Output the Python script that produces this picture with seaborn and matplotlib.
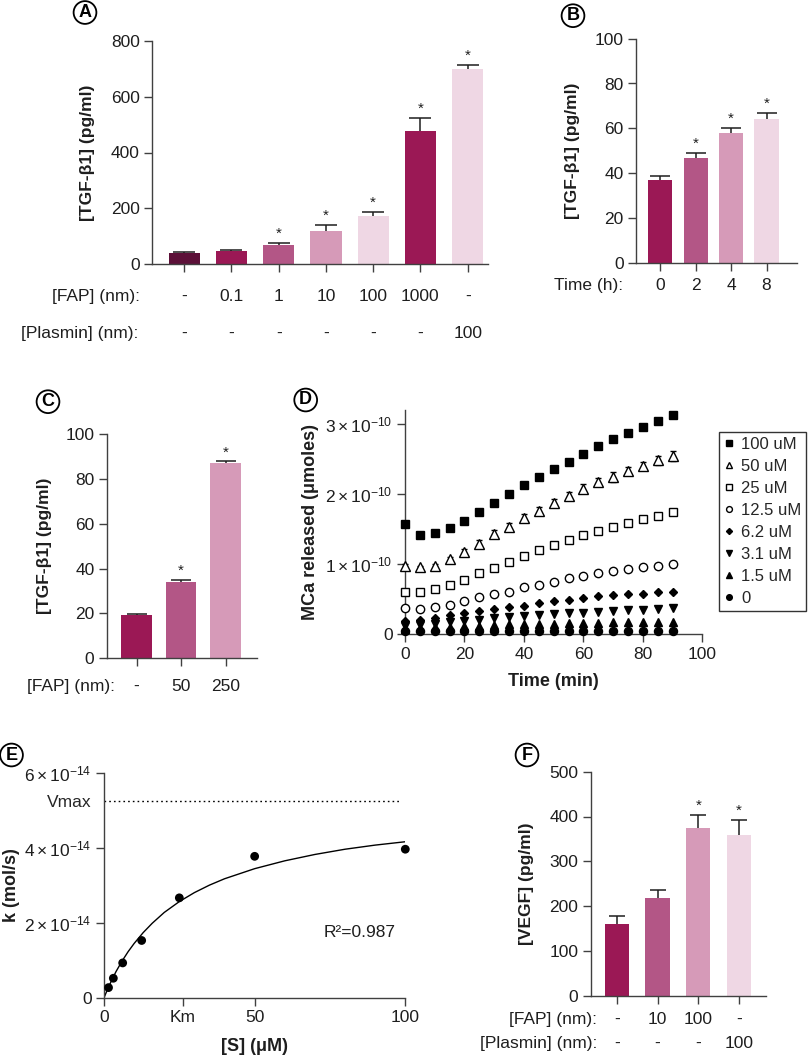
import numpy as np
import matplotlib
matplotlib.use("Agg")
import matplotlib.pyplot as plt
import matplotlib.transforms as mtransforms
import seaborn as sns

# ---- panel A: TGF-b1 vs FAP / plasmin
a_conditions = ["ctrl", "FAP 0.1", "FAP 1", "FAP 10", "FAP 100", "FAP 1000", "Plasmin 100"]
a_means = [40, 46, 68, 120, 171, 478, 699]
a_err = [4, 6, 8, 20, 16, 45, 16]
a_stars = [False, False, True, True, True, True, True]
a_fap = ["-", "0.1", "1", "10", "100", "1000", "-"]
a_plasmin = ["-", "-", "-", "-", "-", "-", "100"]

# ---- panel B: time course
b_conditions = ["0 h", "2 h", "4 h", "8 h"]
b_means = [36.8, 46.6, 57.8, 64.1]
b_err = [1.9, 2.4, 2.2, 2.9]
b_stars = [False, True, True, True]
b_time = ["0", "2", "4", "8"]

# ---- panel C
c_conditions = ["ctrl", "FAP 50", "FAP 250"]
c_means = [19.2, 34.0, 87.2]
c_err = [0.5, 1.0, 0.6]
c_stars = [False, True, True]
c_fap = ["-", "50", "250"]

# ---- panel D: MCa released (units of 1e-10 umoles)
d_time = [0, 5, 10, 15, 20, 25, 30, 35, 40, 45, 50, 55, 60, 65, 70, 75, 80, 85, 90]
d_100 = [1.58, 1.42, 1.44, 1.51, 1.62, 1.75, 1.87, 2.00, 2.13, 2.24, 2.36, 2.46, 2.57, 2.68, 2.78, 2.87, 2.96, 3.05, 3.13]
d_50 = [0.98, 0.96, 0.98, 1.07, 1.18, 1.29, 1.43, 1.53, 1.66, 1.76, 1.87, 1.97, 2.08, 2.17, 2.24, 2.33, 2.40, 2.48, 2.54]
d_50_err = [0.02, 0.02, 0.02, 0.03, 0.04, 0.06, 0.06, 0.06, 0.06, 0.06, 0.06, 0.06, 0.06, 0.06, 0.07, 0.06, 0.06, 0.07, 0.07]
d_25 = [0.61, 0.60, 0.64, 0.70, 0.78, 0.87, 0.95, 1.03, 1.12, 1.20, 1.27, 1.35, 1.41, 1.47, 1.53, 1.59, 1.65, 1.69, 1.75]
d_12 = [0.37, 0.36, 0.39, 0.42, 0.47, 0.53, 0.58, 0.61, 0.68, 0.71, 0.75, 0.80, 0.83, 0.87, 0.90, 0.93, 0.96, 0.98, 1.01]
d_6 = [0.19, 0.20, 0.23, 0.27, 0.30, 0.33, 0.36, 0.39, 0.41, 0.44, 0.47, 0.49, 0.52, 0.54, 0.56, 0.57, 0.58, 0.60, 0.61]
d_3 = [0.12, 0.13, 0.15, 0.17, 0.19, 0.21, 0.23, 0.25, 0.26, 0.28, 0.29, 0.30, 0.31, 0.32, 0.33, 0.34, 0.35, 0.36, 0.37]
d_1 = [0.08, 0.09, 0.10, 0.11, 0.12, 0.12, 0.13, 0.14, 0.14, 0.15, 0.15, 0.16, 0.16, 0.16, 0.17, 0.17, 0.17, 0.18, 0.18]
d_0 = [0.05, 0.04, 0.04, 0.04, 0.04, 0.04, 0.04, 0.04, 0.04, 0.04, 0.04, 0.04, 0.04, 0.04, 0.04, 0.04, 0.04, 0.04, 0.04]
d_labels = ["100 uM", "50 uM", "25 uM", "12.5 uM", "6.2 uM", "3.1 uM", "1.5 uM", "0"]

# ---- panel E: Michaelis-Menten (k in units of 1e-14 mol/s)
e_s = [1.5, 3.1, 6.2, 12.5, 25, 50, 100]
e_k = [0.27, 0.52, 0.93, 1.53, 2.67, 3.78, 3.97]
fit_s = [0, 1, 2, 3, 4, 6, 8, 10, 13, 16, 20, 25, 30, 35, 40, 50, 60, 70, 80, 90, 100]
fit_k = [0, 0.19, 0.37, 0.54, 0.70, 0.98, 1.23, 1.45, 1.74, 1.99, 2.28, 2.57, 2.81, 3.01,
         3.18, 3.45, 3.66, 3.83, 3.97, 4.08, 4.17]
vmax = 5.27
km = 26.2

# ---- panel F: VEGF
f_conditions = ["ctrl", "FAP 10", "FAP 100", "Plasmin 100"]
f_means = [159, 217, 375, 358]
f_err = [20, 19, 28, 34]
f_stars = [False, False, True, True]
f_fap = ["-", "10", "100", "-"]
f_plasmin = ["-", "-", "-", "100"]

DARK = "#5c1038"
MAG = "#9b1855"
MID = "#b35686"
LIGHT = "#d69ab8"
PALE = "#efd7e4"
INK = "#1e1e1e"
SPINE = "#404040"
FS = 12.5

sns.set_style("ticks")
plt.rcParams["font.family"] = ["Liberation Sans", "DejaVu Sans"]
plt.rcParams["mathtext.fontset"] = "custom"
plt.rcParams["mathtext.rm"] = "Liberation Sans"
plt.rcParams["mathtext.it"] = "Liberation Sans:italic"
plt.rcParams["mathtext.bf"] = "Liberation Sans:bold"
plt.rcParams["axes.edgecolor"] = SPINE
plt.rcParams["axes.linewidth"] = 1.0

W, H = 810, 1056
fig = plt.figure(figsize=(W / 100, H / 100), dpi=100)


def add_ax(left, top, right, bottom):
    ax = fig.add_axes([left / W, 1 - bottom / H, (right - left) / W, (bottom - top) / H])
    ax.set_facecolor("none")
    return ax


def style(ax, fs=FS):
    sns.despine(ax=ax)
    ax.tick_params(direction="out", length=5.8, width=1, color=SPINE,
                   labelsize=fs, labelcolor=INK, pad=3)


def ylab(ax, text, cx, box, fs=FS):
    ax.set_ylabel(text, fontsize=fs, fontweight="bold", color=INK, va="center")
    ax.yaxis.set_label_coords((cx - box[0]) / (box[2] - box[0]), 0.5)


def xlab(ax, text, cy, box, fs=FS):
    ax.set_xlabel(text, fontsize=fs, fontweight="bold", color=INK, va="center")
    ax.xaxis.set_label_coords(0.5, (box[3] - cy) / (box[3] - box[1]))


def row(ax, y_px, title, title_right, labels):
    tr = mtransforms.blended_transform_factory(ax.transData, fig.transFigure)
    for i, lab in enumerate(labels):
        ax.text(i, 1 - y_px / H, lab, transform=tr, ha="center", va="center",
                fontsize=FS, color=INK)
    fig.text(title_right / W, 1 - y_px / H, title, ha="right", va="center",
             fontsize=FS, color=INK)


def bar_panel(box, conds, means, errs, colors, stars, width, xlim, ylim, yticks, capsize):
    ax = add_ax(*box)
    sns.barplot(x=conds, y=means, hue=conds, palette=colors, legend=False,
                saturation=1, width=width, linewidth=0, errorbar=None, ax=ax)
    # upper error bars only, as in the original figure
    eb = ax.errorbar(range(len(means)), means, yerr=[[0] * len(errs), errs], fmt="none",
                     ecolor=INK, elinewidth=1.1, capsize=capsize, capthick=1.1, zorder=3)
    for cap in eb[1]:
        if np.allclose(cap.get_ydata(), means):
            cap.set_visible(False)
    for i, (m, e, s) in enumerate(zip(means, errs, stars)):
        if s:
            ax.annotate("*", (i, m + e), xytext=(0, 1.5), textcoords="offset points",
                        ha="center", va="bottom", fontsize=11, color=INK)
    ax.set_xlim(xlim)
    ax.set_ylim(ylim)
    ax.set_yticks(yticks)
    ax.set_xticks(range(len(means)))
    ax.set_xticklabels([""] * len(means))
    ax.set_xlabel("")
    style(ax)
    return ax


def letter(x, y, s):
    fig.text(x / W, 1 - y / H, s, ha="center", va="center", fontsize=13,
             fontweight="bold", color="black",
             bbox=dict(boxstyle="circle,pad=0.16", fc="white", ec="black", lw=1.3))


# A
boxA = (152, 41, 488, 264)
axA = bar_panel(boxA, a_conditions, a_means, a_err, [DARK, MAG, MID, LIGHT, PALE, MAG, PALE],
                a_stars, 0.66, (-0.68, 6.43), (0, 800), [0, 200, 400, 600, 800], 7.8)
ylab(axA, "[TGF-β1] (pg/ml)", 88, boxA)
row(axA, 296.5, "[FAP] (nm):", 139.5, a_fap)
row(axA, 333.5, "[Plasmin] (nm):", 138.5, a_plasmin)

# B
boxB = (636, 38.7, 796.7, 262.7)
axB = bar_panel(boxB, b_conditions, b_means, b_err, [MAG, MID, LIGHT, PALE],
                b_stars, 0.68, (-0.68, 3.85), (0, 100), [0, 20, 40, 60, 80, 100], 7.2)
ylab(axB, "[TGF-β1] (pg/ml)", 573, boxB)
row(axB, 285.7, "Time (h):", 623.5, b_time)

# C
boxC = (106.7, 434, 256.7, 658.3)
axC = bar_panel(boxC, c_conditions, c_means, c_err, [MAG, MID, LIGHT],
                c_stars, 0.69, (-0.67, 2.70), (0, 100), [0, 20, 40, 60, 80, 100], 7.5)
ylab(axC, "[TGF-β1] (pg/ml)", 45, boxC)
row(axC, 686.7, "[FAP] (nm):", 115, c_fap)

# D
boxD = (405, 410, 702.3, 634.3)
axD = add_ax(*boxD)
series = [
    (d_100, "s", "black", 5.6),
    (d_50, "^", "white", 6.6),
    (d_25, "s", "white", 5.8),
    (d_12, "o", "white", 6.0),
    (d_6, "D", "black", 4.4),
    (d_3, "v", "black", 5.6),
    (d_1, "^", "black", 5.6),
    (d_0, "o", "black", 5.8),
]
handles = []
for vals, mk, fc, ms in series:
    if vals is d_50:
        eb = axD.errorbar(d_time, vals, yerr=d_50_err, fmt=mk, mfc=fc, mec="black", mew=1,
                          ms=ms, ecolor="black", elinewidth=1, capsize=2.4, capthick=1,
                          clip_on=False, zorder=3)
        h = eb[0]
    else:
        (h,) = axD.plot(d_time, vals, ls="none", marker=mk, mfc=fc, mec="black", mew=1,
                        ms=ms, clip_on=False, zorder=3)
    handles.append(h)
axD.set_xlim(0, 100)
axD.set_ylim(0, 3.2)
axD.set_xticks([0, 20, 40, 60, 80, 100])
axD.set_yticks([0, 1, 2, 3], ["0", r"$1\times10^{-10}$", r"$2\times10^{-10}$", r"$3\times10^{-10}$"])
style(axD, 12.5)
ylab(axD, "MCa released (μmoles)", 310.7, boxD, 13)
xlab(axD, "Time (min)", 681.7, boxD, 13)
leg = axD.legend(handles, d_labels, loc="upper left", bbox_to_anchor=(719.3 / W, 1 - 432.3 / H),
                 bbox_transform=fig.transFigure, borderaxespad=0, frameon=True, fancybox=False,
                 edgecolor="black", handlelength=0.6, handletextpad=0.4, labelspacing=0.42,
                 borderpad=0.3, fontsize=12, markerscale=0.7)
leg.get_frame().set_linewidth(1)

# E
boxE = (104, 773.3, 405.3, 997.7)
axE = add_ax(*boxE)
sns.lineplot(x=fit_s, y=fit_k, color="black", lw=1, ax=axE)
sns.scatterplot(x=e_s, y=e_k, color="black", s=40, edgecolor="none", clip_on=False,
                zorder=3, ax=axE)
axE.hlines(vmax, 0, 98.2, colors="black", linestyles=(0, (1.2, 2.2)), lw=1)
axE.text(85, 1.75, "R²=0.987", ha="center", va="center", fontsize=12.5, color=INK)
axE.set_xlim(0, 100)
axE.set_ylim(0, 6)
axE.set_xticks([0, km, 50, 100], ["0", "Km", "50", "100"])
axE.set_yticks([0, 2, 4, 6], ["0", r"$2\times10^{-14}$", r"$4\times10^{-14}$", r"$6\times10^{-14}$"])
axE.set_yticks([vmax], ["Vmax"], minor=True)
style(axE, 12.5)
axE.tick_params(axis="y", which="minor", length=0, pad=8.8, labelsize=12.5)
ylab(axE, "k (mol/s)", 11, boxE, 13)
xlab(axE, "[S] (μM)", 1046.7, boxE, 13)

# F
boxF = (590.5, 771.7, 765.7, 995.7)
axF = bar_panel(boxF, f_conditions, f_means, f_err, [MAG, MID, LIGHT, PALE],
                f_stars, 0.6, (-0.65, 3.66), (0, 500), [0, 100, 200, 300, 400, 500], 6)
ylab(axF, "[VEGF] (pg/ml)", 527, boxF)
row(axF, 1019.3, "[FAP] (nm):", 597, f_fap)
row(axF, 1043.3, "[Plasmin] (nm):", 597, f_plasmin)

letter(85, 12.5, "A")
letter(573, 15.7, "B")
letter(48, 401.7, "C")
letter(305.7, 400, "D")
letter(11.5, 755, "E")
letter(527, 755, "F")

fig.savefig("out.png", dpi=100)
